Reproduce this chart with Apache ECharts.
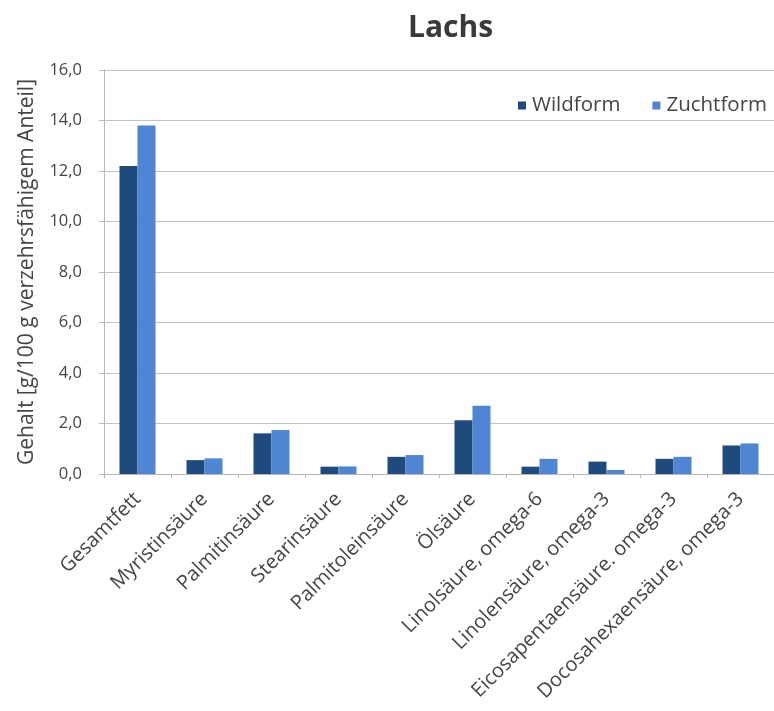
<!DOCTYPE html>
<html>
<head>
<meta charset="utf-8">
<script src="https://cdn.jsdelivr.net/npm/echarts@6/dist/echarts.min.js"></script>
<style>
  html, body { margin: 0; padding: 0; background: #ffffff; }
  #chart { width: 774px; height: 711px; }
</style>
</head>
<body>
<div id="chart"></div>
<script>
// Fettsäuregehalt von Lachs, Wild- und Zuchtform
const categories = [
  'Gesamtfett', 'Myristinsäure', 'Palmitinsäure', 'Stearinsäure',
  'Palmitoleinsäure', 'Ölsäure', 'Linolsäure, omega-6',
  'Linolensäure, omega-3', 'Eicosapentaensäure. omega-3',
  'Docosahexaensäure, omega-3'
];
const wildform   = [12.2, 0.55, 1.61, 0.29, 0.68, 2.13, 0.29, 0.49, 0.60, 1.13];
const zuchtform  = [13.8, 0.62, 1.74, 0.30, 0.75, 2.70, 0.60, 0.16, 0.68, 1.21];
const seriesNames = ['Wildform', 'Zuchtform'];

const font = '"Open Sans", "Noto Sans", sans-serif';
const chart = echarts.init(document.getElementById('chart'));

chart.setOption({
  backgroundColor: '#ffffff',
  animation: false,
  title: {
    text: 'Lachs',
    left: 408,
    top: 13,
    padding: 0,
    textStyle: { fontFamily: font, fontSize: 30, fontWeight: 'bold', color: '#3a3a3a' }
  },
  legend: {
    data: seriesNames,
    left: 513,
    top: 90,
    itemWidth: 8,
    itemHeight: 8,
    itemGap: 32,
    icon: 'rect',
    textStyle: { fontFamily: font, fontSize: 20.5, color: '#454545', padding: [0, 0, 0, 1] }
  },
  grid: { left: 104, right: -8, top: 70, bottom: 237, containLabel: false },
  xAxis: {
    type: 'category',
    data: categories,
    axisLine: { lineStyle: { color: '#b8b8b8', width: 1 } },
    axisTick: { show: true, length: 4, lineStyle: { color: '#b8b8b8' } },
    axisLabel: {
      rotate: 45,
      interval: 0,
      margin: 22,
      fontFamily: font,
      fontSize: 20,
      color: '#454545'
    }
  },
  yAxis: {
    type: 'value',
    min: 0,
    max: 16,
    interval: 2,
    name: 'Gehalt [g/100 g verzehrsfähigem Anteil]',
    nameLocation: 'middle',
    nameGap: 66,
    nameTextStyle: { fontFamily: font, fontSize: 21, color: '#454545' },
    axisLine: { show: true, lineStyle: { color: '#b8b8b8' } },
    axisTick: { show: true, length: 5, lineStyle: { color: '#b8b8b8' } },
    axisLabel: {
      fontFamily: font,
      fontSize: 16.5,
      color: '#454545',
      margin: 22,
      formatter: v => v.toFixed(1).replace('.', ',')
    },
    splitLine: { lineStyle: { color: '#c4c4c4', width: 1 } }
  },
  series: [
    {
      name: seriesNames[0],
      type: 'bar',
      data: wildform,
      barWidth: 18,
      barGap: '0%',
      itemStyle: { color: '#1f4a7e' }
    },
    {
      name: seriesNames[1],
      type: 'bar',
      data: zuchtform,
      barWidth: 18,
      barGap: '0%',
      itemStyle: { color: '#4f86d4' }
    }
  ]
});
</script>
</body>
</html>
